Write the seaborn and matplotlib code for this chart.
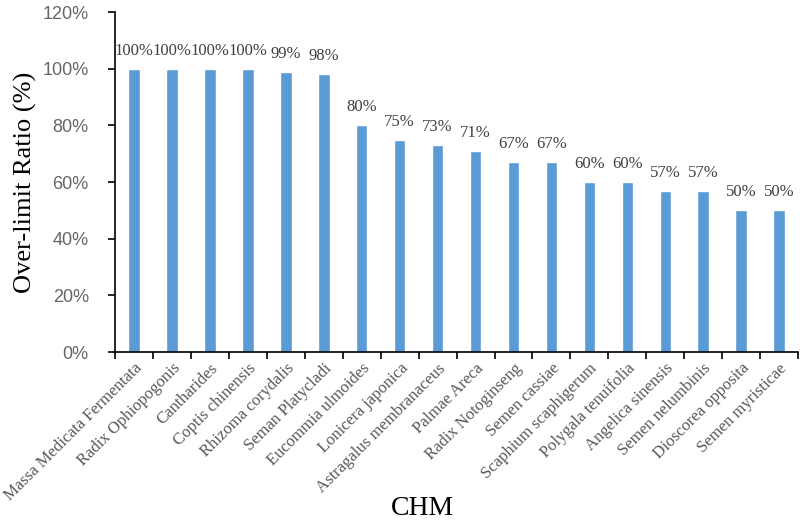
import matplotlib
matplotlib.use("Agg")
import matplotlib.pyplot as plt
import seaborn as sns
import pandas as pd
import numpy as np
from matplotlib.ticker import PercentFormatter, FixedLocator

categories = ["Massa Medicata Fermentata", "Radix Ophiopogonis", "Cantharides",
              "Coptis chinensis", "Rhizoma corydalis", "Seman Platycladi",
              "Eucommia ulmoides", "Lonicera japonica", "Astragalus membranaceus",
              "Palmae Areca", "Radix Notoginseng", "Semen cassiae",
              "Scaphium scaphigerum", "Polygala tenuifolia", "Angelica sinensis",
              "Semen nelumbinis", "Dioscorea opposita", "Semen myristicae"]
ratios = [100, 100, 100, 100, 99, 98, 80, 75, 73, 71, 67, 67, 60, 60, 57, 57, 50, 50]
y_ticks = [0, 20, 40, 60, 80, 100, 120]

df = pd.DataFrame({"CHM": categories, "ratio": ratios})

sns.set_theme(style="white")
plt.rcParams['font.family'] = ['Liberation Serif', 'DejaVu Serif']

fig = plt.figure(figsize=(8, 5.25), dpi=100)
ax = fig.add_axes([0.144, 0.3295, 0.8535, 0.6475])

sns.barplot(data=df, x="CHM", y="ratio", color="#5B9BD5", width=0.3,
            saturation=1, ax=ax)

for i, v in enumerate(ratios):
    ax.text(i, v + 3.5, f"{v}%", ha="center", va="bottom", fontsize=12,
            color="#404040")

ax.set_ylim(0, 120)
ax.set_xlim(-0.5, len(categories) - 0.5)
ax.set_yticks(y_ticks)
ax.yaxis.set_major_formatter(PercentFormatter(decimals=0))
for lab in ax.get_yticklabels():
    lab.set_fontfamily(['Liberation Sans', 'DejaVu Sans'])
    lab.set_fontsize(13)
    lab.set_color("#666666")

ax.set_xticks(range(len(categories)))
ax.set_xticklabels(categories, rotation=45, ha="right", rotation_mode="anchor",
                   fontsize=12, color="#595959")
ax.xaxis.set_minor_locator(FixedLocator(np.arange(-0.5, len(categories), 1)))
ax.tick_params(axis="x", which="major", length=0, pad=6)
ax.tick_params(axis="x", which="minor", length=5, width=1.2, color="black",
               direction="out", bottom=True)
ax.tick_params(axis="y", which="major", length=5, width=1.2, color="black",
               direction="out", left=True, pad=14)

for s in ["top", "right"]:
    ax.spines[s].set_visible(False)
for s in ["left", "bottom"]:
    ax.spines[s].set_color("black")
    ax.spines[s].set_linewidth(1.2)

ax.set_xlabel("CHM", fontsize=20, color="black")
ax.set_ylabel("Over-limit Ratio (%)", fontsize=19, color="black")
ax.xaxis.set_label_coords(0.45, -0.425)
ax.yaxis.set_label_coords(-0.115, 0.5)

fig.savefig("out.png", dpi=100)
